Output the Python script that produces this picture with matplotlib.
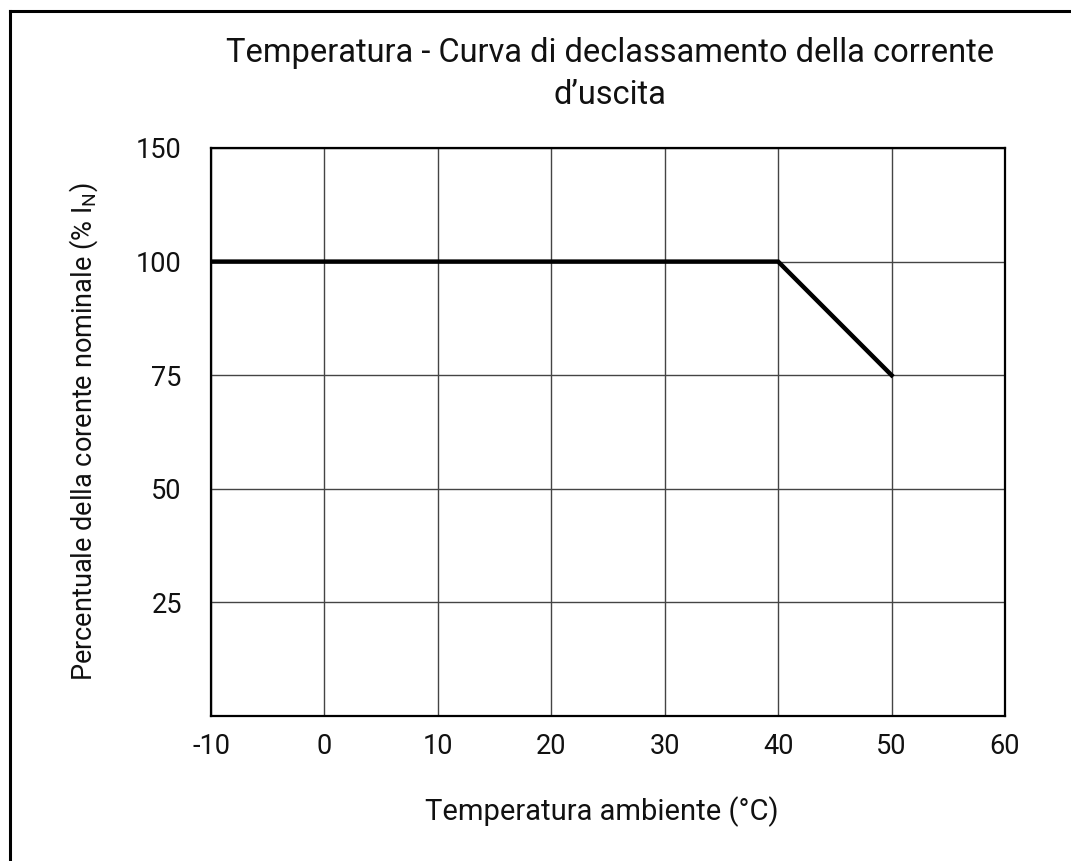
#!/usr/bin/env python3
"""
Temperature derating curve of the output current
"""

import matplotlib
matplotlib.use("Agg")
import matplotlib.pyplot as plt
from matplotlib.lines import Line2D

# Curve data
temperature = [-10, 40, 50]
current_pct = [100, 100, 75]

# Axis ticks (the original sheet labels the top gridline "150")
x_ticks = [-10, 0, 10, 20, 30, 40, 50, 60]
y_ticks = [25, 50, 75, 100, 125]
y_tick_labels = ["25", "50", "75", "100", "150"]

TITLE = "Temperatura - Curva di declassamento della corrente\nd\u2019uscita"
XLABEL = "Temperatura ambiente (\u00b0C)"
YLABEL = "Percentuale della corente nominale (% I$_\\mathregular{N}$)"

plt.rcParams["font.family"] = ["Roboto", "DejaVu Sans"]
plt.rcParams["axes.unicode_minus"] = False

W, H = 1071, 861
fig = plt.figure(figsize=(W / 100, H / 100), dpi=100)
ax = fig.add_axes([211 / W, 1 - 716 / H, (1005 - 211) / W, (716 - 148) / H])

ax.plot(temperature, current_pct, color="black", linewidth=3.2,
        solid_joinstyle="miter", zorder=3)

ax.set_xlim(-10, 60)
ax.set_ylim(0, 125)
ax.set_xticks(x_ticks)
ax.set_yticks(y_ticks)
ax.set_yticklabels(y_tick_labels)
ax.tick_params(length=0, labelsize=19.5, colors="#111111")
ax.tick_params(axis="x", pad=12)
ax.tick_params(axis="y", pad=21)
ax.grid(True, color="#444444", linewidth=1.0)

for s in ax.spines.values():
    s.set_linewidth(1.6)
    s.set_color("black")

ax.set_xlabel(XLABEL, fontsize=21, color="#111111", va="center")
ax.xaxis.set_label_coords((602 - 211) / 794, (716 - 812) / 568)
ax.set_ylabel(YLABEL, fontsize=19.5, color="#111111", va="center")
ax.yaxis.set_label_coords((84 - 211) / 794, (716 - 432) / 568)

fig.text(610 / W, 1 - 74 / H, TITLE, ha="center", va="center",
         fontsize=23.5, linespacing=1.4, color="#111111")

# partial frame round the figure (top and left edges)
fig.add_artist(Line2D([10 / W, 1.0], [1 - 11 / H, 1 - 11 / H],
                      transform=fig.transFigure, color="black", linewidth=2.2))
fig.add_artist(Line2D([10 / W, 10 / W], [0.0, 1 - 11 / H],
                      transform=fig.transFigure, color="black", linewidth=2.2))

fig.savefig("out.png", dpi=100)
plt.close(fig)
